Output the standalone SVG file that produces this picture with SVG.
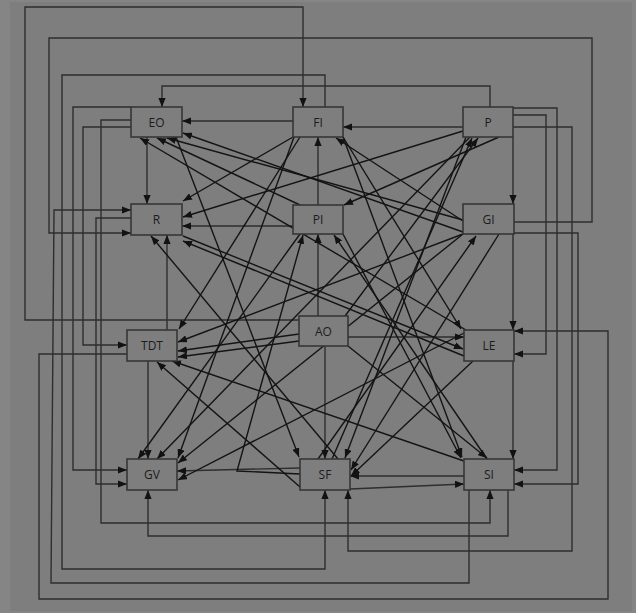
<svg xmlns="http://www.w3.org/2000/svg" width="636" height="613" viewBox="0 0 636 613">
<defs>
<marker id="ah" viewBox="0 0 10 8" refX="10" refY="4" markerWidth="9" markerHeight="7.2" orient="auto" markerUnits="userSpaceOnUse"><path d="M0,0L10,4L0,8z" fill="#121212"/></marker>
<style>
.bg{fill:#858585}
.in{fill:#7e7e7e}
.box{fill:#7e7e7e;stroke:#363636;stroke-width:1.6}
.lbl{font-family:"Open Sans","Liberation Sans",Arial,sans-serif;font-size:12px;fill:#1c1c1c;text-anchor:middle}
.o{fill:none;stroke:#2e2e2e;stroke-width:1.4;marker-end:url(#ah)}
.d{fill:none;stroke:#141414;stroke-width:1.4;marker-end:url(#ah)}
</style>
</defs>
<rect class="bg" x="0" y="0" width="636" height="613"/>
<rect class="in" x="10" y="2" width="622" height="609"/>

<g id="connectors">
<path class="o" d="M299,320 H25 V7 H303 V107"/>
<path class="o" d="M514,222 H592 V38 H49 V233 H131"/>
<path class="o" d="M325,107 V75 H62 V569 H325 V490"/>
<path class="o" d="M490,107 V86 H162 V107"/>
<path class="o" d="M131,107 H73 V470 H127"/>
<path class="o" d="M131,120 H101 V523 H490 V490"/>
<path class="o" d="M131,127 H83 V345 H127"/>
<path class="o" d="M513,108 H557 V470 H514"/>
<path class="o" d="M513,115 H546 V354 H514"/>
<path class="o" d="M513,127 H572 V551 H348 V490"/>
<path class="o" d="M513,137 V204"/>
<path class="o" d="M513,234 V330"/>
<path class="o" d="M513,361 V459"/>
<path class="o" d="M514,233 H578 V484 H514"/>
<path class="o" d="M127,354 H39 V599 H608 V331 H514"/>
<path class="o" d="M469,490 V583 H51 L54,210 H131"/>
<path class="o" d="M131,218 H96 V484 H127"/>
<path class="o" d="M508,490 V536 H148 V490"/>
<path class="o" d="M148,361 V459"/>
<path class="o" d="M167,330 V235"/>
<path class="o" d="M147,137 V204"/>
<path class="o" d="M293,121 H182"/>
<path class="o" d="M463,127 H343"/>
<path class="o" d="M318,205 V137"/>
<path class="o" d="M293,226 H182"/>
<path class="o" d="M318,316 V234"/>
<path class="o" d="M325,346 V459"/>
<path class="o" d="M348,337 H464"/>
<path class="o" d="M300,468 L177,471"/>
<path class="o" d="M464,476 H350"/>
<path class="o" d="M350,489 L464,484"/>
<line class="d" x1="300" y1="205" x2="157" y2="138"/>
<line class="d" x1="463" y1="220" x2="167" y2="138"/>
<line class="d" x1="463" y1="232" x2="183" y2="133"/>
<line class="d" x1="466" y1="330" x2="140" y2="138"/>
<line class="d" x1="293" y1="137" x2="183" y2="201"/>
<line class="d" x1="463" y1="131" x2="183" y2="217"/>
<line class="d" x1="464" y1="356" x2="183" y2="241"/>
<line class="d" x1="183" y1="236" x2="463" y2="349"/>
<line class="d" x1="338" y1="459" x2="151" y2="236"/>
<line class="d" x1="343" y1="137" x2="461" y2="329"/>
<line class="d" x1="499" y1="137" x2="344" y2="205"/>
<path class="d" d="M300,474 L237,471 L303,235"/>
<line class="d" x1="487" y1="459" x2="334" y2="235"/>
<line class="d" x1="463" y1="221" x2="336" y2="138"/>
<line class="d" x1="463" y1="234" x2="178" y2="342"/>
<line class="d" x1="299" y1="334" x2="178" y2="351"/>
<line class="d" x1="299" y1="341" x2="178" y2="357"/>
<line class="d" x1="300" y1="137" x2="179" y2="329"/>
<line class="d" x1="464" y1="461" x2="172" y2="361"/>
<line class="d" x1="300" y1="487" x2="157" y2="362"/>
<line class="d" x1="300" y1="234" x2="138" y2="459"/>
<line class="d" x1="470" y1="137" x2="157" y2="459"/>
<line class="d" x1="294" y1="137" x2="178" y2="458"/>
<line class="d" x1="463" y1="234" x2="178" y2="463"/>
<line class="d" x1="464" y1="333" x2="178" y2="480"/>
<line class="d" x1="176" y1="137" x2="299" y2="457"/>
<line class="d" x1="466" y1="137" x2="345" y2="458"/>
<line class="d" x1="499" y1="234" x2="351" y2="470"/>
<line class="d" x1="473" y1="361" x2="351" y2="476"/>
<line class="d" x1="343" y1="137" x2="462" y2="457"/>
<line class="d" x1="348" y1="346" x2="487" y2="458"/>
<line class="d" x1="343" y1="234" x2="461" y2="458"/>
<line class="d" x1="318" y1="459" x2="476" y2="236"/>
<line class="d" x1="332" y1="459" x2="472" y2="138"/>
<line class="d" x1="345" y1="316" x2="478" y2="138"/>
</g>

<g id="EO"><rect class="box" x="131" y="107" width="51" height="30"/><text class="lbl" x="156.5" y="126.5">EO</text></g>
<g id="FI"><rect class="box" x="293" y="107" width="50" height="30"/><text class="lbl" x="318" y="126.5">FI</text></g>
<g id="P"><rect class="box" x="463" y="107" width="50" height="30"/><text class="lbl" x="488" y="126.5">P</text></g>
<g id="R"><rect class="box" x="131" y="204" width="51" height="31"/><text class="lbl" x="156.5" y="224">R</text></g>
<g id="PI"><rect class="box" x="293" y="205" width="50" height="29"/><text class="lbl" x="318" y="224">PI</text></g>
<g id="GI"><rect class="box" x="463" y="204" width="51" height="30"/><text class="lbl" x="488.5" y="224">GI</text></g>
<g id="TDT"><rect class="box" x="127" y="330" width="50" height="31"/><text class="lbl" x="152" y="350">TDT</text></g>
<g id="AO"><rect class="box" x="299" y="316" width="49" height="30"/><text class="lbl" x="323.5" y="335.5">AO</text></g>
<g id="LE"><rect class="box" x="464" y="330" width="50" height="31"/><text class="lbl" x="489" y="350">LE</text></g>
<g id="GV"><rect class="box" x="127" y="459" width="50" height="31"/><text class="lbl" x="152" y="479">GV</text></g>
<g id="SF"><rect class="box" x="300" y="459" width="50" height="31"/><text class="lbl" x="325" y="479">SF</text></g>
<g id="SI"><rect class="box" x="464" y="459" width="50" height="31"/><text class="lbl" x="489" y="479">SI</text></g>
</svg>
